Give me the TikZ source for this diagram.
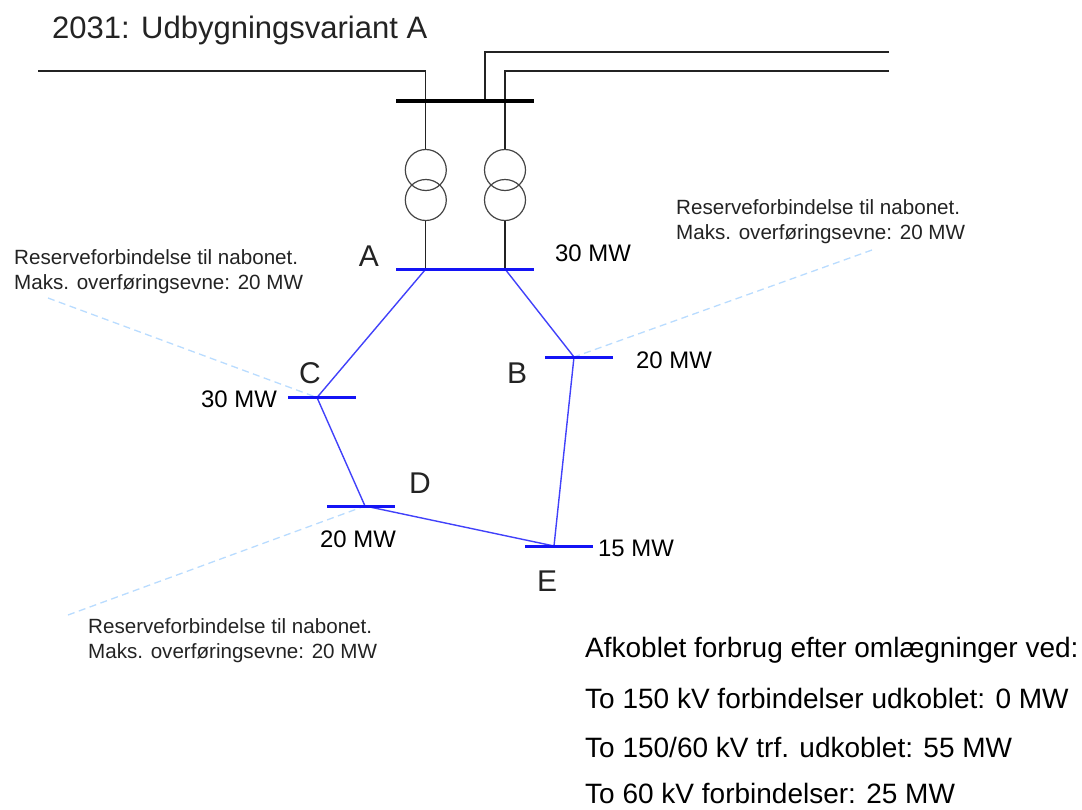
\documentclass[tikz,border=0pt]{standalone}
\usepackage{fontspec}
\setmainfont{Liberation Sans}
\definecolor{busblue}{RGB}{20,20,245}
\definecolor{lineblue}{RGB}{65,65,250}
\definecolor{resblue}{RGB}{185,220,255}
\definecolor{ink}{RGB}{35,35,35}
\tikzset{
  lbl/.style={inner sep=0pt,anchor=base west,text=ink},
  title/.style={lbl,font=\fontsize{31}{36}\selectfont},
  letter/.style={inner sep=0pt,text=ink,font=\fontsize{30}{36}\selectfont},
  small/.style={inner sep=0pt,anchor=west,text=ink,align=left,font=\fontsize{20.6}{25}\selectfont},
  mw/.style={lbl,text=black,font=\fontsize{23.9}{28}\selectfont},
  note/.style={lbl,text=black,font=\fontsize{28}{32}\selectfont},
  wire/.style={draw=ink,line width=1.3pt},
  blackbus/.style={draw=black,line width=4pt},
  bluebus/.style={draw=busblue,line width=3pt},
  feeder/.style={draw=lineblue,line width=1.4pt},
  reserve/.style={draw=resblue,line width=1.3pt,dash pattern=on 7pt off 4.5pt},
  winding/.style={circle,draw=ink!85,line width=1.2pt,minimum size=41pt,inner sep=0pt}
}
\begin{document}
\begin{tikzpicture}[x=1pt,y=-1pt]
\useasboundingbox (0,0) rectangle (1082,809);
% coordinates
\coordinate (L1) at (38,71); \coordinate (L1c) at (425.8,71); \coordinate (T1) at (425.8,101);
\coordinate (R1) at (889,71); \coordinate (R1c) at (505,71); \coordinate (T2) at (505,101);
\coordinate (R2) at (889,52); \coordinate (R2c) at (485,52); \coordinate (T3) at (485,101);
\coordinate (HVa) at (396,101); \coordinate (HVb) at (534,101);
\coordinate (Aa) at (396,269); \coordinate (Ab) at (534,269);
\coordinate (A1) at (425.8,269); \coordinate (A2) at (505,269);
\coordinate (Ba) at (545,357); \coordinate (Bb) at (613,357); \coordinate (Bj) at (574,357);
\coordinate (Ca) at (288,397.5); \coordinate (Cb) at (356,397.5); \coordinate (Cj) at (317,397.5);
\coordinate (Da) at (327,506); \coordinate (Db) at (395,506); \coordinate (Dj) at (365,506);
\coordinate (Ea) at (525,546); \coordinate (Eb) at (593,546); \coordinate (Ej) at (554,546);
\coordinate (ResC) at (48,298); \coordinate (ResB) at (872,250); \coordinate (ResD) at (68,615);
% transformers
\node[winding] (t1u) at (425.8,170) {};
\node[winding] (t1l) at (425.8,200) {};
\node[winding] (t2u) at (505,170) {};
\node[winding] (t2l) at (505,200) {};
% reserve lines
\draw[reserve] (ResC) -- (Cj);
\draw[reserve] (ResB) -- (Bj);
\draw[reserve] (ResD) -- (Dj);
% wires
\draw[wire] (L1) -- (L1c) -- (T1);
\draw[wire] (R1) -- (R1c) -- (T2);
\draw[wire] (R2) -- (R2c) -- (T3);
\draw[wire] (T1) -- (t1u.north);
\draw[wire] (T2) -- (t2u.north);
\draw[wire] (t1l.south) -- (A1);
\draw[wire] (t2l.south) -- (A2);
% feeders
\draw[feeder] (A1) -- (Cj);
\draw[feeder] (A2) -- (Bj);
\draw[feeder] (Cj) -- (Dj);
\draw[feeder] (Dj) -- (Ej);
\draw[feeder] (Bj) -- (Ej);
% busbars
\draw[blackbus] (HVa) -- (HVb);
\draw[bluebus] (Aa) -- (Ab);
\draw[bluebus] (Ba) -- (Bb);
\draw[bluebus] (Ca) -- (Cb);
\draw[bluebus] (Da) -- (Db);
\draw[bluebus] (Ea) -- (Eb);
% texts
\node[title] (ttl) at (52,38) {2031: Udbygningsvariant A};
\node[letter] (la) at (369,256) {A};
\node[letter] (lb) at (517,373) {B};
\node[letter] (lc) at (310,373.5) {C};
\node[letter] (ld) at (420,483) {D};
\node[letter] (le) at (547,581.5) {E};
\node[mw] (ma) at (555,261) {30 MW};
\node[mw] (mb) at (636,368) {20 MW};
\node[mw] (mc) at (201,407) {30 MW};
\node[mw] (md) at (320,547) {20 MW};
\node[mw] (me) at (598,556) {15 MW};
\node[small] (nc) at (14,271.5) {Reserveforbindelse til nabonet.\\Maks. overføringsevne: 20 MW};
\node[small] (nb) at (676,222) {Reserveforbindelse til nabonet.\\Maks. overføringsevne: 20 MW};
\node[small] (nd) at (88,640.5) {Reserveforbindelse til nabonet.\\Maks. overføringsevne: 20 MW};
\node[note] (n1) at (585,657) {Afkoblet forbrug efter omlægninger ved:};
\node[note] (n2) at (585,708) {To 150 kV forbindelser udkoblet: 0 MW};
\node[note] (n3) at (585,757) {To 150/60 kV trf. udkoblet: 55 MW};
\node[note] (n4) at (585,803) {To 60 kV forbindelser: 25 MW};
\end{tikzpicture}
\end{document}
